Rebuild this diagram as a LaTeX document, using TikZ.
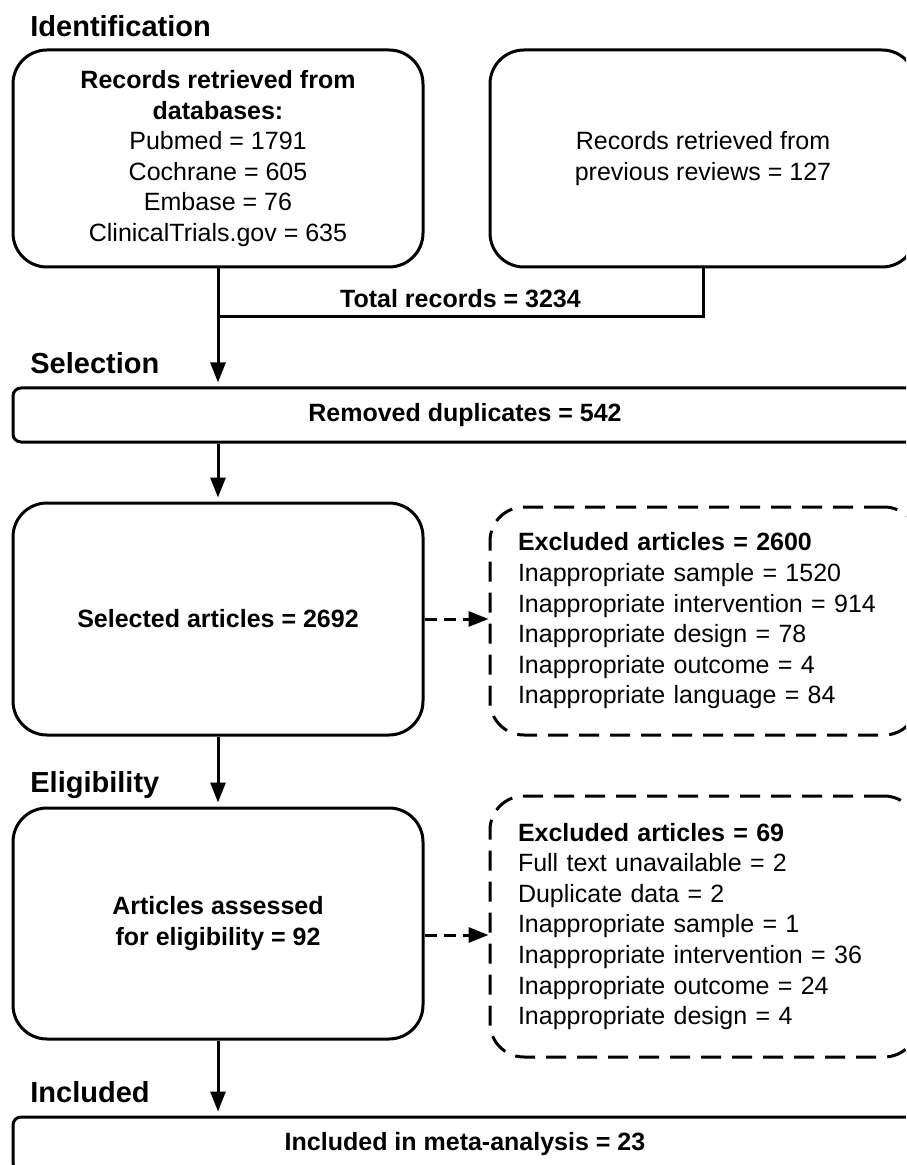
\documentclass[tikz,border=0pt]{standalone}
\usepackage{fontspec}
\setmainfont{Liberation Sans}
\usetikzlibrary{arrows.meta}

\tikzset{
	stage/.style={anchor=base west, inner sep=0pt, font=\fontsize{14.5}{17}\selectfont\bfseries},
	box/.style={draw, line width=1.5pt, rounded corners=17pt, align=center, font=\fontsize{12.5}{15.3}\selectfont},
	flatbox/.style={box, rounded corners=4pt, minimum width=452pt, minimum height=27pt},
	exbox/.style={box, dash pattern=on 10pt off 5.5pt, align=left, text width=186pt, inner xsep=14pt, minimum width=214pt},
	flow/.style={line width=1.5pt, -{Triangle[width=7.5pt,length=10pt]}, shorten >=2pt},
	exflow/.style={line width=1.5pt, dash pattern=on 6pt off 3.5pt, -{Triangle[width=7.5pt,length=10pt]}}
}

\begin{document}
\begin{tikzpicture}[x=0.5pt, y=-0.5pt]

	\useasboundingbox (0,0) rectangle (906,1165);
	\clip (0,0) rectangle (906,1165);

% stage headings
	\node[stage] (hIdent) at (30,37) {Identification};
	\node[stage] (hSel) at (30,374) {Selection};
	\node[stage] (hElig) at (30,792) {Eligibility};
	\node[stage] (hIncl) at (30,1102) {Included};

% boxes
	\node[box, minimum width=205pt, minimum height=108.5pt] (dbase) at (218,158.5)
		{\textbf{Records retrieved from}\\ \textbf{databases:}\\ Pubmed = 1791\\ Cochrane = 605\\ Embase = 76\\ ClinicalTrials.gov = 635};
	\node[box, minimum width=213pt, minimum height=108.5pt] (prev) at (703,158.5)
		{Records retrieved from\\ previous reviews = 127};

	\node[flatbox] (dupl) at (465,415) {\textbf{Removed duplicates = 542}};

	\node[box, minimum width=205pt, minimum height=116pt] (sel) at (218,619)
		{\textbf{Selected articles = 2692}};
	\node[exbox, minimum height=114pt] (exc1) at (704,621)
		{\textbf{Excluded articles = 2600}\\ Inappropriate sample = 1520\\ Inappropriate intervention = 914\\ Inappropriate design = 78\\ Inappropriate outcome = 4\\ Inappropriate language = 84};

	\node[box, minimum width=205pt, minimum height=115.5pt] (elig) at (218,923.5)
		{\textbf{Articles assessed}\\ \textbf{for eligibility = 92}};
	\node[exbox, minimum height=130.5pt] (exc2) at (704,926.5)
		{\textbf{Excluded articles = 69}\\ Full text unavailable = 2\\ Duplicate data = 2\\ Inappropriate sample = 1\\ Inappropriate intervention = 36\\ Inappropriate outcome = 24\\ Inappropriate design = 4};

	\node[flatbox] (incl) at (465,1144) {\textbf{Included in meta-analysis = 23}};

% connectors
	\coordinate (merge) at (218,317);
	\coordinate (lvl2) at (0,935);

	\draw[line width=1.5pt] (prev.south) |- (merge)
		node[pos=0.75, above=0.5pt, font=\fontsize{12.5}{15.3}\selectfont\bfseries] (total) {Total records = 3234};
	\draw[flow] (dbase.south) -- (dbase.south |- dupl.north);
	\draw[flow] (sel.north |- dupl.south) -- (sel.north);
	\draw[flow] (sel.south) -- (elig.north);
	\draw[flow] (elig.south) -- (elig.south |- incl.north);

	\draw[exflow] (sel.east) -- (sel.east -| exc1.west);
	\draw[exflow] (elig.east |- lvl2) -- (exc2.west |- lvl2);

\end{tikzpicture}
\end{document}
